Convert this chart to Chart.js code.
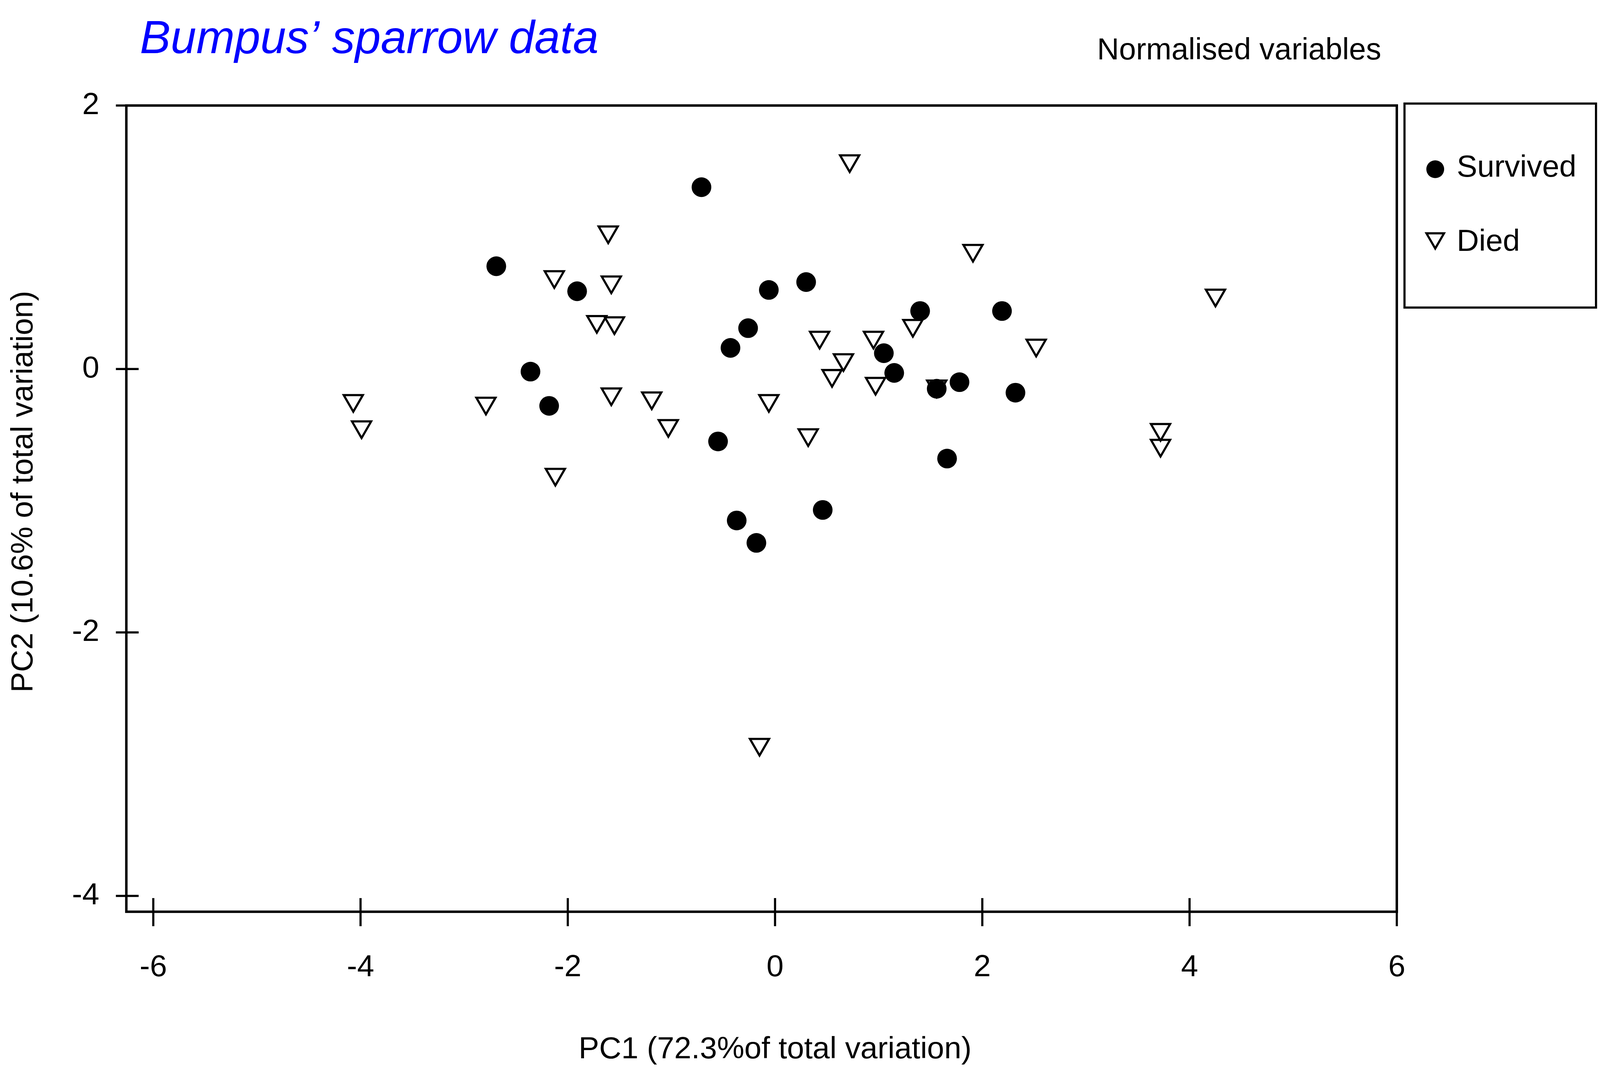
<!DOCTYPE html>
<html>
<head>
<meta charset="utf-8">
<script src="https://cdn.jsdelivr.net/npm/chart.js@4.4.0/dist/chart.umd.min.js"></script>
<style>
  html, body { margin: 0; padding: 0; background: #fff; overflow: hidden; }
  #wrap { position: relative; width: 100vw; height: 100vh; }
</style>
</head>
<body>
<div id="wrap"><canvas id="chart-pca"></canvas></div>
<script>
// PC scores
var survivedPC1 = [-2.69, -1.91, -2.36, -2.18, -0.71, -0.06, 0.30, -0.26, -0.43, 1.05, 1.15,
                   1.40, -0.55, 0.46, 1.56, 2.19, 1.78, 2.32, 1.66, -0.37, -0.18];
var survivedPC2 = [0.78, 0.59, -0.02, -0.28, 1.38, 0.60, 0.66, 0.31, 0.16, 0.12, -0.03,
                   0.44, -0.55, -1.07, -0.15, 0.44, -0.10, -0.18, -0.68, -1.15, -1.32];

var diedPC1 = [-1.61, -2.13, -1.58, -1.72, -1.55, -1.58, -4.07, -3.99, -2.79, -2.12, 0.72, 0.43, 0.95, 0.66,
               0.55, 0.97, 1.33, -1.19, -1.03, -0.06, 0.32, 1.56, 1.91, 2.52, 4.25, 3.72, 3.72, -0.15];
var diedPC2 = [1.04, 0.70, 0.66, 0.36, 0.35, -0.19, -0.24, -0.44, -0.26, -0.80, 1.58, 0.24, 0.24, 0.07,
               -0.05, -0.11, 0.33, -0.22, -0.43, -0.24, -0.50, -0.13, 0.90, 0.18, 0.56, -0.46, -0.58, -2.85];

var seriesLabels = ['Survived', 'Died'];
var xTicks = [-6, -4, -2, 0, 2, 4, 6];
var yTicks = [-4, -2, 0, 2];
var xRange = [-6.26, 6];
var yRange = [-4.12, 2];

var chartTitle = 'Bumpus\u2019 sparrow data';
var chartSubtitle = 'Normalised variables';
var xTitle = 'PC1 (72.3%of total variation)';
var yTitle = 'PC2 (10.6% of total variation)';

// layout numbers are on a 5205 x 2761 grid and get mapped onto the window
var KX = window.innerWidth / 5205;
var KY = window.innerHeight / 2761;
var KF = Math.min(KX, KY);
function gx(v) { return v * KX; }
function gy(v) { return v * KY; }
function gs(v) { return v * KF; }

var fontFamily = "'Liberation Sans', Arial, Helvetica, sans-serif";
Chart.defaults.font.family = fontFamily;
Chart.defaults.color = '#000';

function toPoints(xs, ys) {
    return xs.map(function (x, i) { return {x: x, y: ys[i]}; });
}

function font(size, style) {
    return (style ? style + ' ' : '') + gs(size) + 'px ' + fontFamily;
}

// baseline that puts the middle of the capitals on a given line
function capMid(y, size) {
    return y + 0.358 * gs(size);
}

// frame, tick marks, titles and the boxed legend
var decorations = {
    id: 'decorations',
    beforeDatasetsDraw: function (chart) {
        var ctx = chart.ctx, a = chart.chartArea;
        var sx = chart.scales.x, sy = chart.scales.y;
        ctx.save();
        ctx.strokeStyle = '#000';
        ctx.lineWidth = gs(8);
        ctx.strokeRect(a.left, a.top, a.right - a.left, a.bottom - a.top);
        ctx.lineWidth = gs(7);
        ctx.beginPath();
        sx.ticks.forEach(function (t) {
            var p = sx.getPixelForValue(t.value);
            ctx.moveTo(p, a.bottom - gy(35));
            ctx.lineTo(p, a.bottom + gy(37));
        });
        sy.ticks.forEach(function (t) {
            var p = sy.getPixelForValue(t.value);
            ctx.moveTo(a.left - gx(34), p);
            ctx.lineTo(a.left + gx(40), p);
        });
        ctx.stroke();
        ctx.restore();
    },
    afterDraw: function (chart) {
        var ctx = chart.ctx, a = chart.chartArea;
        var sx = chart.scales.x;
        ctx.save();
        ctx.textBaseline = 'alphabetic';

        ctx.fillStyle = '#0000ff';
        ctx.font = font(150, 'italic');
        ctx.textAlign = 'left';
        ctx.fillText(chartTitle, gx(455), capMid(gy(94), 150));

        ctx.fillStyle = '#000';
        ctx.font = font(99);
        ctx.fillText(chartSubtitle, gx(3569), capMid(gy(124), 99));

        ctx.font = font(100);
        ctx.textAlign = 'center';
        ctx.fillText(xTitle, sx.getPixelForValue(0), capMid(gy(2680), 100));

        ctx.save();
        ctx.translate(capMid(gx(70), 100), gy(1258));
        ctx.rotate(-Math.PI / 2);
        ctx.fillText(yTitle, 0, 0);
        ctx.restore();

        // legend
        var bx = a.right + gx(25), by = a.top - gy(5), bw = gx(623), bh = gy(522);
        ctx.strokeStyle = '#000';
        ctx.lineWidth = gs(7);
        ctx.strokeRect(bx, by, bw, bh);

        var rows = [{dy: 168, ty: 159, r: 29}, {dy: 345, ty: 349, r: 33}];
        chart.data.datasets.forEach(function (ds, i) {
            var row = rows[i];
            ctx.fillStyle = ds.backgroundColor;
            ctx.strokeStyle = ds.borderColor;
            ctx.lineWidth = ds.borderWidth;
            Chart.helpers.drawPoint(ctx, {
                pointStyle: ds.pointStyle,
                rotation: ds.rotation,
                radius: gs(row.r),
                borderWidth: ds.borderWidth
            }, bx + gx(100), by + gy(row.dy));
            ctx.fillStyle = '#000';
            ctx.textAlign = 'left';
            ctx.font = font(100);
            ctx.fillText(ds.label, bx + gx(170), capMid(by + gy(row.ty), 100));
        });
        ctx.restore();
    }
};

var ctxPca = document.getElementById('chart-pca').getContext('2d');
var chartPca = new Chart(ctxPca, {
    type: 'scatter',
    data: {
        datasets: [
            {
                label: seriesLabels[0],
                data: toPoints(survivedPC1, survivedPC2),
                pointStyle: 'circle',
                radius: gs(32),
                backgroundColor: '#000',
                borderColor: '#000',
                borderWidth: 0,
                rotation: 0
            },
            {
                label: seriesLabels[1],
                data: toPoints(diedPC1, diedPC2),
                pointStyle: 'triangle',
                rotation: 180,
                radius: gs(36),
                backgroundColor: 'rgba(0,0,0,0)',
                borderColor: '#000',
                borderWidth: gs(7)
            }
        ]
    },
    options: {
        responsive: true,
        maintainAspectRatio: false,
        animation: false,
        events: [],
        layout: { padding: { left: 0, top: gy(270), right: gx(661), bottom: 0 } },
        plugins: {
            legend: { display: false },
            tooltip: { enabled: false },
            title: { display: false }
        },
        scales: {
            x: {
                type: 'linear',
                min: xRange[0],
                max: xRange[1],
                grid: { display: false, drawTicks: false },
                border: { display: false },
                ticks: {
                    font: { size: gs(100) },
                    padding: gy(143) - gs(60),
                    maxRotation: 0,
                    callback: function (v) { return String(v); }
                },
                afterBuildTicks: function (s) {
                    s.ticks = xTicks.map(function (v) { return {value: v}; });
                },
                afterFit: function (s) { s.height = gy(428); }
            },
            y: {
                type: 'linear',
                min: yRange[0],
                max: yRange[1],
                grid: { display: false, drawTicks: false },
                border: { display: false },
                ticks: {
                    font: { size: gs(100) },
                    padding: gx(88),
                    callback: function (v) { return String(v); }
                },
                afterBuildTicks: function (s) {
                    s.ticks = yTicks.map(function (v) { return {value: v}; });
                },
                afterFit: function (s) { s.width = gx(411); }
            }
        }
    },
    plugins: [decorations]
});
</script>
</body>
</html>
